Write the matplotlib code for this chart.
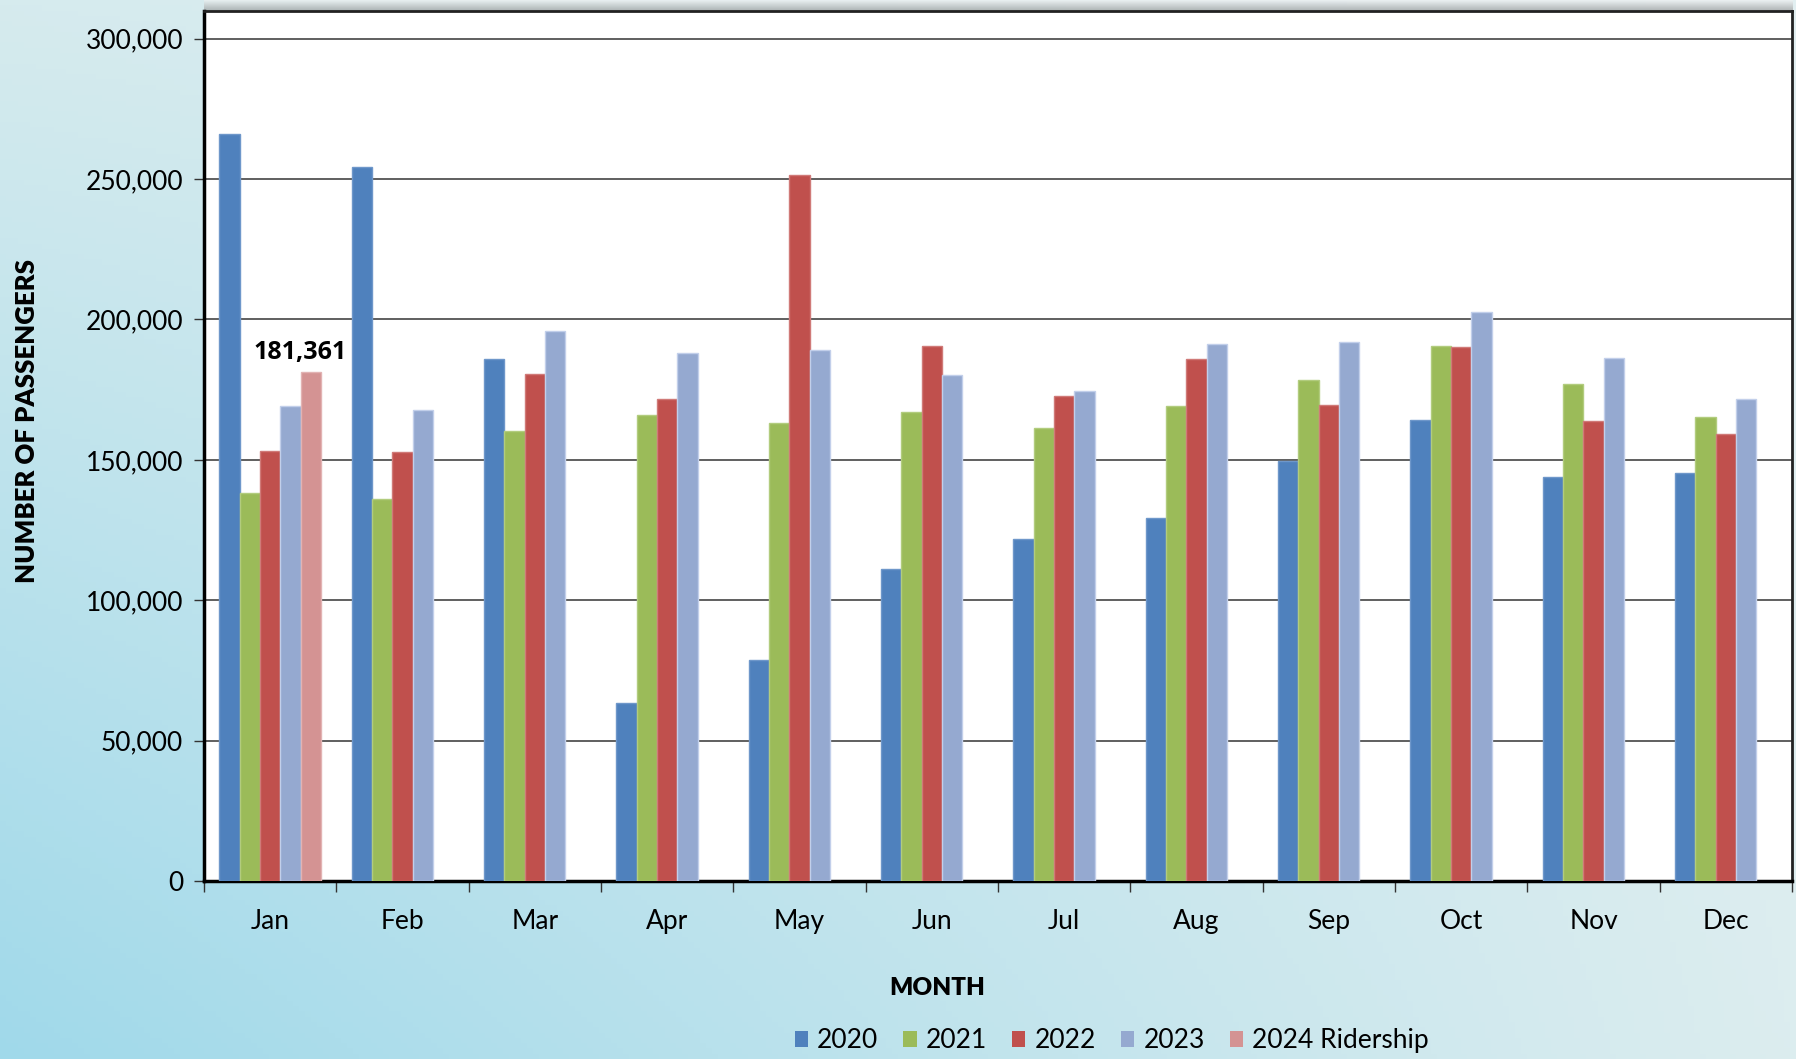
import numpy as np
import matplotlib
matplotlib.use("Agg")
import matplotlib.pyplot as plt
from matplotlib.ticker import FuncFormatter, FixedLocator
from matplotlib.patches import Patch

# datos
meses = ["Jan", "Feb", "Mar", "Apr", "May", "Jun", "Jul", "Aug", "Sep", "Oct", "Nov", "Dec"]
v2020 = [266000, 254300, 185900, 63400, 78600, 111200, 121900, 129200, 149600, 164300, 143800, 145500]
v2021 = [138200, 136200, 160200, 165900, 163000, 167100, 161400, 169100, 178500, 190700, 176900, 165100]
v2022 = [153300, 152900, 180600, 171600, 251500, 190700, 172800, 185800, 169600, 190300, 163800, 159300]
v2023 = [169100, 167900, 196000, 187900, 189100, 180100, 174400, 191100, 191900, 202500, 186200, 171600]
v2024 = [181361]  # solo enero
series = ["2020", "2021", "2022", "2023", "2024 Ridership"]
colores = ["#4F81BD", "#9BBB59", "#C0504D", "#95A9D0", "#D49393"]
bordes = ["#6E97CA", "#B2CC7E", "#D07A78", "#C2CFEA", "#E2B3B3"]

fig = plt.figure(figsize=(17.96, 10.59), dpi=100)

# fondo degradado
bg = fig.add_axes([0, 0, 1, 1], zorder=-10)
tl = np.array([0xd6, 0xeb, 0xee]) / 255
bl = np.array([0xa0, 0xd9, 0xea]) / 255
tr = np.array([0xe2, 0xef, 0xf1]) / 255
br = np.array([0xdc, 0xed, 0xef]) / 255
yy, xx = np.mgrid[0:1:200j, 0:1:300j]
xx = xx[..., None]
yy = yy[..., None]
img = (1 - xx) * ((1 - yy) * tl + yy * bl) + xx * ((1 - yy) * tr + yy * br)
bg.imshow(img, aspect="auto", extent=[0, 1, 0, 1], origin="upper")
bg.axis("off")

# sombra arriba del area de grafico
sh = fig.add_axes([0.1136, 0.990, 0.8842, 0.010], zorder=-5)
grad = np.linspace(0.55, 0.95, 20)[:, None] * np.ones((20, 50))
sh.imshow(np.dstack([grad, grad, grad]), aspect="auto", origin="lower", alpha=0.6)
sh.axis("off")

ax = fig.add_axes([0.1136, 0.168, 0.8842, 0.822])
ax.set_facecolor("white")

x = np.arange(len(meses))
w = 0.154
datos = [v2020, v2021, v2022, v2023]
for k, vals in enumerate(datos):
    ax.bar(x + (k - 2) * w, vals, w, color=colores[k], edgecolor=bordes[k], linewidth=1, zorder=3)
ax.bar(x[:len(v2024)] + 2 * w, v2024, w, color=colores[4], edgecolor=bordes[4], linewidth=1, zorder=3)
ax.annotate(f"{v2024[0]:,}", (x[0] + 2 * w, v2024[0]), xytext=(-8, 5), textcoords="offset points",
            ha="center", va="bottom", fontsize=18, fontweight="bold", family="Open Sans")

ax.set_xlim(-0.5, 11.5)
ax.set_ylim(0, 310000)
ax.set_yticks(np.arange(0, 300001, 50000))
ax.yaxis.set_major_formatter(FuncFormatter(lambda v, p: f"{int(v):,}"))
ax.grid(axis="y", color="#444444", linewidth=1.2, zorder=0)

ax.set_xticks(x)
ax.set_xticklabels(meses)
ax.xaxis.set_minor_locator(FixedLocator(np.arange(-0.5, 12, 1)))
ax.tick_params(axis="x", which="major", length=0, pad=20, labelsize=19)
ax.tick_params(axis="x", which="minor", length=8, width=1, color="#333333")
ax.tick_params(axis="y", length=7, width=1, color="#333333", labelsize=19, pad=8)
for lab in ax.get_xticklabels() + ax.get_yticklabels():
    lab.set_family("Lato")

for s in ["left", "bottom"]:
    ax.spines[s].set_linewidth(2.5)
    ax.spines[s].set_color("black")
for s in ["top", "right"]:
    ax.spines[s].set_linewidth(2)
    ax.spines[s].set_color("#222222")

ax.set_ylabel("NUMBER OF PASSENGERS", fontsize=18.5, fontweight="heavy", family="Lato")
ax.yaxis.set_label_coords(-0.104, 0.528)
fig.text(0.522, 0.067, "MONTH", fontsize=17.5, fontweight="heavy", family="Lato", ha="center", va="center")

handles = [Patch(facecolor=c, edgecolor="none") for c in colores]
fig.legend(handles, series, loc="center", bbox_to_anchor=(0.619, 0.017), ncol=5, frameon=False,
           prop={"family": "Lato", "size": 19}, handlelength=0.5, handleheight=0.55,
           handletextpad=0.35, columnspacing=0.95)

fig.savefig("out.png", dpi=100)
